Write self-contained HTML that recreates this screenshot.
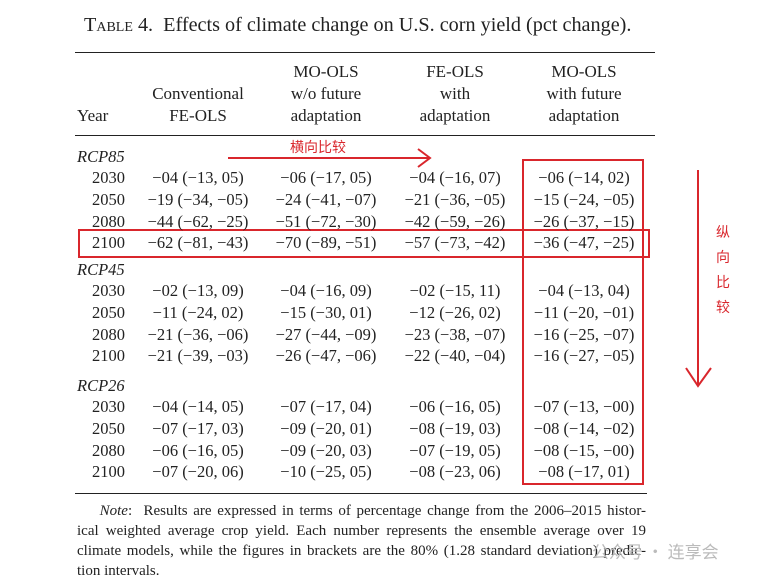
<!DOCTYPE html>
<html><head><meta charset="utf-8"><style>
body{margin:0;width:764px;height:584px;background:#fff;position:relative;overflow:hidden;font-family:"Liberation Serif",serif;color:#222}
.t{position:absolute;white-space:nowrap;font-size:16.5px;line-height:20px}
.c{transform:translateX(-50%)}
.rule{position:absolute;height:1.3px;background:#222}
.red{position:absolute;border:2px solid #d9262c}
.nl{position:absolute;left:77px;width:569px;font-size:15px;line-height:21px;text-align:justify;text-align-last:justify;white-space:nowrap}
</style></head><body>
<div class="t" style="left:84px;top:13px;font-size:20.2px;line-height:24px"><span style="font-variant:small-caps">Table</span> 4.&nbsp; Effects of climate change on U.S. corn yield (pct change).</div>
<div class="rule" style="left:75px;top:52px;width:580px"></div>
<div class="rule" style="left:75px;top:135px;width:580px"></div>
<div class="rule" style="left:75px;top:493px;width:572px"></div>
<div>
<div class="nl" style="top:501px">&nbsp;&nbsp;&nbsp;&nbsp;<i>Note</i>:&nbsp; Results are expressed in terms of percentage change from the 2006–2015 histor-</div>
<div class="nl" style="top:521px">ical weighted average crop yield. Each number represents the ensemble average over 19</div>
<div class="nl" style="top:541px">climate models, while the figures in brackets are the 80% (1.28 standard deviation) predic-</div>
<div class="nl" style="top:561px;text-align-last:left">tion intervals.</div>
</div>
<div class="red" style="left:522px;top:159px;width:118px;height:322px"></div>
<div class="red" style="left:78px;top:229px;width:568px;height:25px"></div>
<div class="t" style="left:290px;top:137px;color:#d9262c;font-family:'Noto Sans CJK SC',sans-serif;font-size:14px">横向比较</div>
<svg style="position:absolute;left:0;top:0" width="764" height="584">
<g stroke="#d9262c" stroke-width="2" fill="none">
<line x1="228" y1="158" x2="430" y2="158"/><polyline points="418,149 430,158 418,167"/>
<line x1="698" y1="170" x2="698" y2="386"/><polyline points="686,368 698,386 711,368"/>
</g></svg>
<div class="t" style="left:716px;top:220px;color:#d9262c;font-family:'Noto Sans CJK SC',sans-serif;font-size:14px;line-height:25px;white-space:normal;width:16px">纵向比较</div>
<div class="t" style="left:592px;top:541px;color:#bbb;font-family:'Noto Sans CJK SC',sans-serif;font-size:17px">公众号 · 连享会</div>
<script>
const cols=[198,326,455,584];
const headers=[["Conventional","FE-OLS"],["MO-OLS","w/o future","adaptation"],["FE-OLS","with","adaptation"],["MO-OLS","with future","adaptation"]];
const groups=["RCP85","RCP45","RCP26"];
const years=["2030","2050","2080","2100"];
const cells=[
[["−04 (−13, 05)","−06 (−17, 05)","−04 (−16, 07)","−06 (−14, 02)"],["−19 (−34, −05)","−24 (−41, −07)","−21 (−36, −05)","−15 (−24, −05)"],["−44 (−62, −25)","−51 (−72, −30)","−42 (−59, −26)","−26 (−37, −15)"],["−62 (−81, −43)","−70 (−89, −51)","−57 (−73, −42)","−36 (−47, −25)"]],
[["−02 (−13, 09)","−04 (−16, 09)","−02 (−15, 11)","−04 (−13, 04)"],["−11 (−24, 02)","−15 (−30, 01)","−12 (−26, 02)","−11 (−20, −01)"],["−21 (−36, −06)","−27 (−44, −09)","−23 (−38, −07)","−16 (−25, −07)"],["−21 (−39, −03)","−26 (−47, −06)","−22 (−40, −04)","−16 (−27, −05)"]],
[["−04 (−14, 05)","−07 (−17, 04)","−06 (−16, 05)","−07 (−13, −00)"],["−07 (−17, 03)","−09 (−20, 01)","−08 (−19, 03)","−08 (−14, −02)"],["−06 (−16, 05)","−09 (−20, 03)","−07 (−19, 05)","−08 (−15, −00)"],["−07 (−20, 06)","−10 (−25, 05)","−08 (−23, 06)","−08 (−17, 01)"]]];
function mk(txt,x,y,center,italic){const d=document.createElement('div');d.className='t'+(center?' c':'');d.textContent=txt;d.style.left=x+'px';d.style.top=y+'px';if(italic)d.style.fontStyle='italic';document.body.appendChild(d);return d;}
let e=mk("Year",77,106,false);


e.style.fontSize='17px';
headers.forEach((h,i)=>{h.forEach((l,j)=>{const y=106-(h.length-1-j)*22;const d=mk(l,cols[i],y,true);


d.style.fontSize='17px';});});
const gTop=[147,260,376];
groups.forEach((g,gi)=>{const d=mk(g,77,gTop[gi],false,true);


years.forEach((yr,ri)=>{const y=gTop[gi]+21+ri*21.8;const yd=mk(yr,92,y,false);


cells[gi][ri].forEach((v,ci)=>{const c=mk(v,cols[ci],y,true);

});});});
</script>
</body></html>
